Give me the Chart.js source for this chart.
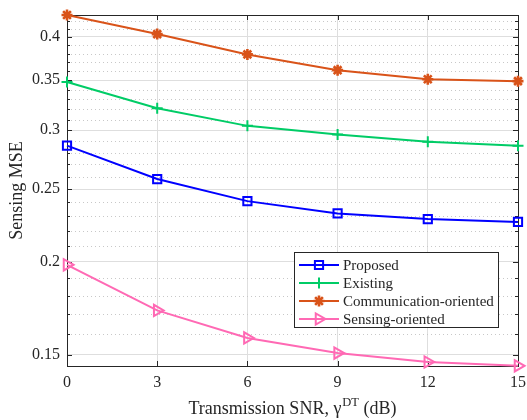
<!DOCTYPE html>
<html><head><meta charset="utf-8">
<script src="https://cdn.jsdelivr.net/npm/chart.js@4/dist/chart.umd.min.js"></script>
<style>html,body{margin:0;padding:0;background:#fff}#wrap{width:527px;height:420px}</style>
</head><body><div id="wrap"><canvas id="c" width="527" height="420"></canvas></div>
<script>
// ---- data ----
const snrDb = [0, 3, 6, 9, 12, 15];
const proposed = [0.286, 0.258, 0.241, 0.232, 0.228, 0.226];
const existing = [0.348, 0.321, 0.304, 0.296, 0.2895, 0.286];
const commOriented = [0.428, 0.4035, 0.379, 0.361, 0.351, 0.349];
const sensOriented = [0.198, 0.172, 0.158, 0.1508, 0.1467, 0.145];
const seriesNames = ['Proposed', 'Existing', 'Communication-oriented', 'Sensing-oriented'];
const xTickValues = [0, 3, 6, 9, 12, 15];
const yTickValues = [0.15, 0.2, 0.25, 0.3, 0.35, 0.4];
const yTickLabels = ['0.15', '0.2', '0.25', '0.3', '0.35', '0.4'];
const yAxisTitle = 'Sensing MSE';
const xAxisTitle = ['Transmission SNR, ', '\u03B3', 'DT', ' (dB)'];

const Y_MIN = 0.1449, Y_MAX = 0.428;
const SERIF = "'Liberation Serif','Times New Roman',serif";
const AXIS = '#262626';

// minor ticks every 0.01
const yMinor = [];
for (let k = 15; k <= 42; k++) yMinor.push(k / 100);
const isMajor = v => yTickValues.some(m => Math.abs(m - v) < 1e-9);

function pts(arr) { return snrDb.map((x, i) => ({ x: x, y: arr[i] })); }

const styles = [
  { color: '#0000FF', pointStyle: 'rect', radius: 5.8, rot: 0, bw: 2 },
  { color: '#00CC66', pointStyle: 'cross', radius: 5.5, rot: 0, bw: 2 },
  { color: '#D95319', pointStyle: 'star', radius: 5.5, rot: 0, bw: 2.6 },
  { color: '#FF69B4', pointStyle: 'triangle', radius: 6.5, rot: 90, bw: 2 }
];
const values = [proposed, existing, commOriented, sensOriented];

const datasets = values.map((v, i) => ({
  label: seriesNames[i],
  data: pts(v),
  borderColor: styles[i].color,
  backgroundColor: 'rgba(0,0,0,0)',
  pointBorderColor: styles[i].color,
  pointBackgroundColor: 'rgba(0,0,0,0)',
  borderWidth: 2,
  pointBorderWidth: styles[i].bw,
  pointStyle: styles[i].pointStyle,
  pointRadius: styles[i].radius,
  pointRotation: styles[i].rot,
  tension: 0,
  clip: false
}));

const framePlugin = {
  id: 'frame',
  beforeDatasetsDraw(chart) {
    const ctx = chart.ctx, a = chart.chartArea;
    const ys = chart.scales.y, xs = chart.scales.x;
    ctx.save();
    // minor dotted grid
    ctx.strokeStyle = '#c8c8c8';
    ctx.lineWidth = 1;
    ctx.setLineDash([1, 3]);
    yMinor.forEach(v => {
      if (isMajor(v)) return;
      const y = Math.round(ys.getPixelForValue(v)) + 0.5;
      ctx.beginPath(); ctx.moveTo(a.left, y); ctx.lineTo(a.right, y); ctx.stroke();
    });
    ctx.setLineDash([]);
    // frame
    ctx.strokeStyle = AXIS;
    ctx.lineWidth = 1;
    ctx.strokeRect(Math.round(a.left) + 0.5, Math.round(a.top) + 0.5,
      Math.round(a.right) - Math.round(a.left), Math.round(a.bottom) - Math.round(a.top));
    // y ticks (inward)
    yMinor.forEach(v => {
      const y = Math.round(ys.getPixelForValue(v)) + 0.5;
      const L = isMajor(v) ? 5 : 3;
      ctx.beginPath();
      ctx.moveTo(a.left, y); ctx.lineTo(a.left + L, y);
      ctx.moveTo(a.right, y); ctx.lineTo(a.right - L, y);
      ctx.stroke();
    });
    // x ticks
    xTickValues.forEach(v => {
      const x = Math.round(xs.getPixelForValue(v)) + 0.5;
      ctx.beginPath();
      ctx.moveTo(x, a.bottom); ctx.lineTo(x, a.bottom - 5);
      ctx.moveTo(x, a.top); ctx.lineTo(x, a.top + 5);
      ctx.stroke();
    });
    ctx.restore();
  },
  afterDraw(chart) {
    const ctx = chart.ctx, a = chart.chartArea;
    ctx.save();
    // x-axis title with superscript
    const f1 = '18px ' + SERIF, f2 = '12.5px ' + SERIF;
    ctx.fillStyle = AXIS;
    ctx.textBaseline = 'alphabetic';
    ctx.font = f1;
    const w0 = ctx.measureText(xAxisTitle[0]).width;
    const w1 = ctx.measureText(xAxisTitle[1]).width;
    const w3 = ctx.measureText(xAxisTitle[3]).width;
    ctx.font = f2;
    const w2 = ctx.measureText(xAxisTitle[2]).width;
    const total = w0 + w1 + w2 + w3 + 1;
    let x = (a.left + a.right) / 2 - total / 2;
    const base = 414;
    ctx.font = f1;
    ctx.textAlign = 'left';
    ctx.fillText(xAxisTitle[0], x, base); x += w0;
    ctx.fillText(xAxisTitle[1], x, base); x += w1 + 1;
    ctx.font = f2;
    ctx.fillText(xAxisTitle[2], x, base - 8); x += w2;
    ctx.font = f1;
    ctx.fillText(xAxisTitle[3], x, base);

    // legend
    const lx = 294.5, ly = 252.5, lw = 204, lh = 75;
    ctx.fillStyle = '#fff';
    ctx.fillRect(lx, ly, lw, lh);
    ctx.strokeStyle = AXIS; ctx.lineWidth = 1;
    ctx.strokeRect(lx, ly, lw, lh);
    ctx.font = '15px ' + SERIF;
    ctx.textBaseline = 'middle';
    chart.data.datasets.forEach((ds, i) => {
      const y = 265 + i * 18;
      ctx.strokeStyle = ds.borderColor; ctx.lineWidth = 2;
      ctx.beginPath(); ctx.moveTo(299, y); ctx.lineTo(339, y); ctx.stroke();
      ctx.fillStyle = 'rgba(0,0,0,0)';
      ctx.lineWidth = ds.pointBorderWidth;
      Chart.helpers.drawPoint(ctx, {
        pointStyle: ds.pointStyle, radius: ds.pointRadius, rotation: ds.pointRotation, borderWidth: ds.pointBorderWidth
      }, 319, y);
      ctx.fillStyle = AXIS;
      ctx.fillText(ds.label, 343, y + 1);
    });
    ctx.restore();
  }
};

new Chart(document.getElementById('c').getContext('2d'), {
  type: 'line',
  data: { datasets: datasets },
  options: {
    responsive: false,
    animation: false,
    devicePixelRatio: 1,
    layout: { padding: { top: 15, right: 9, left: 0, bottom: 0 } },
    plugins: { legend: { display: false }, tooltip: { enabled: false } },
    scales: {
      x: {
        type: 'linear', min: 0, max: 15,
        afterBuildTicks: s => { s.ticks = xTickValues.map(v => ({ value: v })); },
        ticks: { font: { family: SERIF, size: 16 }, color: AXIS, padding: 7, maxRotation: 0, autoSkip: false },
        grid: {
          drawTicks: false, lineWidth: 1,
          color: c => (c.tick && (c.tick.value === 0 || c.tick.value === 15)) ? 'rgba(0,0,0,0)' : '#dedede'
        },
        border: { display: false },
        afterFit: s => { s.height = 54; s.paddingLeft = 0; s.paddingRight = 0; }
      },
      y: {
        type: 'logarithmic', min: Y_MIN, max: Y_MAX,
        afterBuildTicks: s => { s.ticks = yMinor.map(v => ({ value: v })); },
        ticks: {
          font: { family: SERIF, size: 16 }, color: AXIS, padding: 7, autoSkip: false,
          callback: v => { const i = yTickValues.findIndex(m => Math.abs(m - v) < 1e-9); return i >= 0 ? yTickLabels[i] : ''; }
        },
        grid: {
          drawTicks: false, lineWidth: 1,
          color: c => (c.tick && isMajor(c.tick.value)) ? '#dedede' : 'rgba(0,0,0,0)'
        },
        border: { display: false },
        title: { display: true, text: yAxisTitle, font: { family: SERIF, size: 18 }, color: AXIS, padding: { top: 6, bottom: 0 } },
        afterFit: s => { s.width = 67; s.paddingTop = 0; s.paddingBottom = 0; }
      }
    }
  },
  plugins: [framePlugin]
});
</script>
</body></html>
